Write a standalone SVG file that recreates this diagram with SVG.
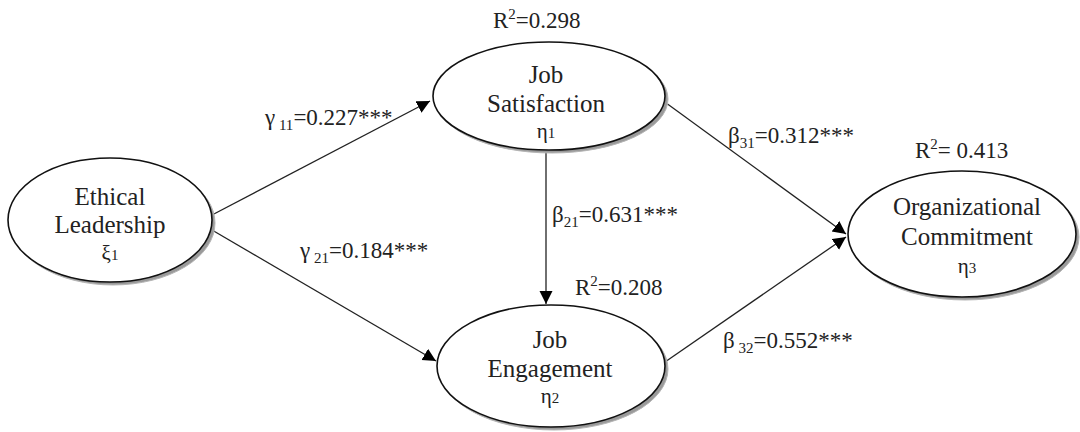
<svg xmlns="http://www.w3.org/2000/svg" width="1080" height="432" viewBox="0 0 1080 432">
<style>
.shadow{fill:#9a9a9a;stroke:#b5b5b5;stroke-width:1}
.node{fill:#ffffff;stroke:#111111;stroke-width:1.6}
text{font-family:'Liberation Serif','Times New Roman','DejaVu Serif',serif;fill:#222}
.nt{font-size:25px;text-anchor:middle}
.gk{font-size:21px;text-anchor:middle}
.lbl{font-size:23px}
.sub{font-size:15px}
.edge{stroke:#222;stroke-width:1.3;fill:none;marker-end:url(#ah)}
</style>
<defs>
<marker id="ah" markerUnits="userSpaceOnUse" markerWidth="14" markerHeight="14" refX="13" refY="6.5" orient="auto">
<path d="M0,0 L13,6.5 L0,13 z" fill="#000"/>
</marker>
</defs>
<rect width="1080" height="432" fill="#fff"/>
<g id="connectors">
<line class="edge" x1="212" y1="215" x2="430" y2="101"/>
<line class="edge" x1="212" y1="230" x2="436" y2="361"/>
<line class="edge" x1="546" y1="150" x2="546" y2="304"/>
<line class="edge" x1="662" y1="100" x2="846" y2="234"/>
<line class="edge" x1="665" y1="362" x2="846" y2="237"/>
</g>
<g id="node-ethical-leadership">
<ellipse class="shadow" cx="113" cy="223" rx="102" ry="62"/>
<ellipse class="node" cx="110" cy="220" rx="102" ry="62"/>
<text class="nt" x="110" y="205">Ethical</text>
<text class="nt" x="110" y="233">Leadership</text>
<text class="gk" x="110" y="260">ξ<tspan class="sub">1</tspan></text>
</g>
<g id="node-job-satisfaction">
<ellipse class="shadow" cx="552" cy="99" rx="116" ry="54"/>
<ellipse class="node" cx="549" cy="96" rx="116" ry="54"/>
<text class="nt" x="546" y="83">Job</text>
<text class="nt" x="546" y="112">Satisfaction</text>
<text class="gk" x="546" y="138">η<tspan class="sub">1</tspan></text>
</g>
<g id="node-job-engagement">
<ellipse class="shadow" cx="554" cy="369" rx="114" ry="61"/>
<ellipse class="node" cx="551" cy="366" rx="114" ry="61"/>
<text class="nt" x="550" y="348">Job</text>
<text class="nt" x="550" y="377">Engagement</text>
<text class="gk" x="550" y="403">η<tspan class="sub">2</tspan></text>
</g>
<g id="node-organizational-commitment">
<ellipse class="shadow" cx="965" cy="237" rx="114" ry="63"/>
<ellipse class="node" cx="962" cy="234" rx="114" ry="63"/>
<text class="nt" x="967" y="215">Organizational</text>
<text class="nt" x="967" y="245">Commitment</text>
<text class="gk" x="967" y="273">η<tspan class="sub">3</tspan></text>
</g>
<g id="labels">
<text class="lbl" x="265" y="125">γ<tspan class="sub" dy="5"> 11</tspan><tspan dy="-5">=0.227***</tspan></text>
<text class="lbl" x="300" y="258">γ<tspan class="sub" dy="5"> 21</tspan><tspan dy="-5">=0.184***</tspan></text>
<text class="lbl" x="552" y="222">β<tspan class="sub" dy="5">21</tspan><tspan dy="-5">=0.631***</tspan></text>
<text class="lbl" x="728" y="143">β<tspan class="sub" dy="5">31</tspan><tspan dy="-5">=0.312***</tspan></text>
<text class="lbl" x="723" y="348">β<tspan class="sub" dy="5"> 32</tspan><tspan dy="-5">=0.552***</tspan></text>
<text class="lbl" x="493" y="28">R<tspan class="sub" dy="-9">2</tspan><tspan dy="9">=0.298</tspan></text>
<text class="lbl" x="575" y="295">R<tspan class="sub" dy="-9">2</tspan><tspan dy="9">=0.208</tspan></text>
<text class="lbl" x="915" y="158">R<tspan class="sub" dy="-9">2</tspan><tspan dy="9">= 0.413</tspan></text>
</g>
</svg>
